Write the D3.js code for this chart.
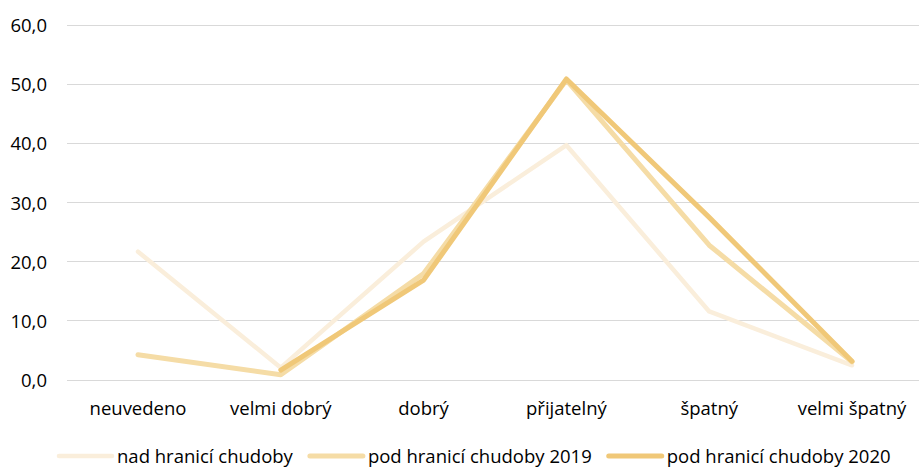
<!DOCTYPE html>
<html>
<head>
<meta charset="utf-8">
<script src="https://cdn.jsdelivr.net/npm/d3@7"></script>
<style>
  html, body { margin: 0; padding: 0; background: #fff; }
  svg { display: block; }
  text { font-family: "Open Sans", "Noto Sans", sans-serif; fill: #000; }
</style>
</head>
<body>
<svg id="chart" width="919" height="468"></svg>
<script>
const categories = ["neuvedeno", "velmi dobrý", "dobrý", "přijatelný", "špatný", "velmi špatný"];
const seriesNames = ["nad hranicí chudoby", "pod hranicí chudoby 2019", "pod hranicí chudoby 2020"];
const nadHranici = [21.6, 2.0, 23.3, 39.6, 11.5, 2.4];
const pod2019 = [4.2, 0.8, 17.9, 50.6, 22.7, 3.0];
const pod2020 = [null, 1.6, 16.8, 50.8, 27.4, 3.1];
const yTicks = [0, 10, 20, 30, 40, 50, 60];
const colors = ["#FAEEDB", "#F5DCA6", "#F0C878"];
const widths = [4.5, 5, 5];

const series = [nadHranici, pod2019, pod2020];

const svg = d3.select("#chart");
const x = d3.scaleBand().domain(categories).range([66.6, 923.4]);
const y = d3.scaleLinear().domain([0, 60]).range([379.5, 24.5]);
const cx = c => x(c) + x.bandwidth() / 2;

// gridlines
svg.append("g").selectAll("line").data(yTicks).join("line")
  .attr("x1", 67).attr("x2", 919)
  .attr("y1", d => Math.round(y(d)) + 0.5).attr("y2", d => Math.round(y(d)) + 0.5)
  .attr("stroke", "#D9D9D9").attr("stroke-width", 1);

// y labels
const fmt = d => d3.format(".1f")(d).replace(".", ",");
svg.append("g").selectAll("text").data(yTicks).join("text")
  .attr("x", 47).attr("y", d => y(d))
  .attr("text-anchor", "end").attr("dominant-baseline", "central")
  .style("font-size", "18.5px")
  .text(fmt);

// x labels
svg.append("g").selectAll("text").data(categories).join("text")
  .attr("x", d => cx(d)).attr("y", 415)
  .attr("text-anchor", "middle")
  .style("font-size", "18.5px")
  .text(d => d);

// lines
const line = d3.line()
  .defined(d => d.v !== null)
  .x(d => cx(d.c)).y(d => y(d.v));

series.forEach((vals, i) => {
  const pts = categories.map((c, j) => ({ c, v: vals[j] }));
  svg.append("path").datum(pts)
    .attr("d", line)
    .attr("fill", "none")
    .attr("stroke", colors[i])
    .attr("stroke-width", widths[i])
    .attr("stroke-linejoin", "round")
    .attr("stroke-linecap", "round");
});

// legend
const legend = svg.append("g");
const swatchW = 53, gapText = 5, gapItem = 17, ly = 456, lBase = 463;
let xPos = 0;
seriesNames.forEach((name, i) => {
  const g = legend.append("g");
  g.append("line")
    .attr("x1", xPos).attr("x2", xPos + swatchW)
    .attr("y1", ly).attr("y2", ly)
    .attr("stroke", colors[i]).attr("stroke-width", widths[i])
    .attr("stroke-linecap", "round");
  const t = g.append("text")
    .attr("x", xPos + swatchW + gapText).attr("y", lBase)
    .style("font-size", "18.5px")
    .text(name);
  const w = t.node().getComputedTextLength();
  xPos += swatchW + gapText + w + gapItem;
});
const total = xPos - gapItem;
legend.attr("transform", `translate(${59},0)`);
</script>
</body>
</html>
